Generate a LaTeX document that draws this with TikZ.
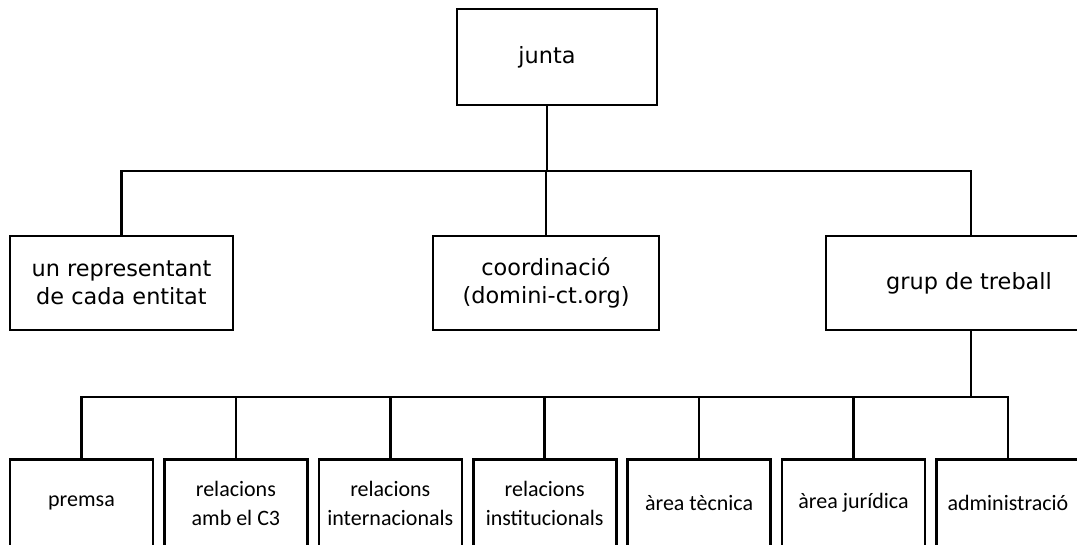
\documentclass[tikz,border=0pt]{standalone}
\usepackage{fontspec}
\setmainfont{DejaVu Sans}
\newfontfamily\bottomfont{Carlito}
\begin{document}
\begin{tikzpicture}[x=1pt,y=-1pt,
  box/.style={draw=black,line width=2.6pt,fill=white,rectangle,inner sep=0pt},
  toptext/.style={align=center,font=\fontsize{22.4}{28}\selectfont,inner sep=0pt},
  bottext/.style={align=center,font=\bottomfont\fontsize{22}{29}\selectfont,inner sep=0pt},
  conn/.style={draw=black,line width=2.6pt}]
\useasboundingbox (0,0) rectangle (1077,544);
\clip (0,0) rectangle (1077,544);
% top
\node[box,minimum width=200pt,minimum height=96pt] (junta) at (557,57) {};
\node[toptext] (jt) at (547,57) {junta};
% second row
\node[box,minimum width=223pt,minimum height=94pt] (rep) at (121.5,283) {};
\node[toptext] (rept) at (121.5,283) {un representant\\de cada entitat};
\node[box,minimum width=226pt,minimum height=94pt] (coord) at (546,283) {};
\node[toptext] (coordt) at (546,283) {coordinació\\(domini-ct.org)};
\node[box,minimum width=290pt,minimum height=94pt] (grup) at (971,283) {};
\node[toptext] (grupt) at (969,283) {grup de treball};
% connectors level 1
\coordinate (h1) at (546,171);
\draw[conn] (jt |- junta.south) -- (jt |- h1);
\draw[conn] (rep.north) -- (rep.north |- h1) -- (grup.north |- h1) -- (grup.north);
\draw[conn] (coord.north) -- (coord.north |- h1);
% bottom row
\foreach \i/\name/\txt in {0/b1/premsa,1/b2/{relacions\\amb el C3},2/b3/{relacions\\internacionals},3/b4/{relacions\\institucionals},4/b5/àrea tècnica,5/b6/àrea jurídica,6/b7/administració}{
  \node[box,minimum width=143pt,minimum height=120pt,anchor=north] (\name) at ({81.5+154.4*\i},458) {};
  \node[bottext] (\name t) at ({81.5+154.4*\i},503) {\txt};
}
\coordinate (h2) at (971,397);
\draw[conn] (grup.south -| h2) -- (h2);
\draw[conn] (b1.north) -- (b1.north |- h2) -- (b7.north |- h2) -- (b7.north);
\foreach \name in {b2,b3,b4,b5,b6}{
  \draw[conn] (\name.north) -- (\name.north |- h2);
}
\end{tikzpicture}
\end{document}
